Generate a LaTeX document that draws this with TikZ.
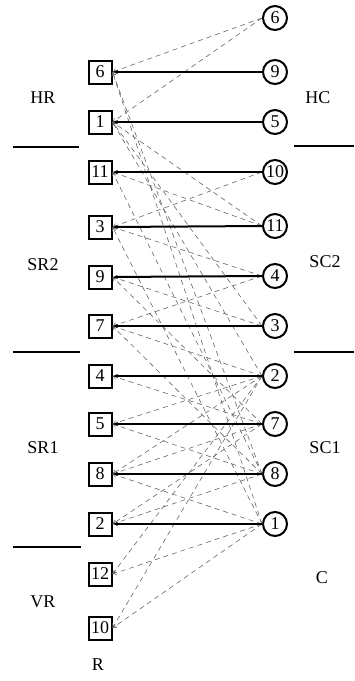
\documentclass[tikz,border=0pt]{standalone}
\usepackage{fontspec}
\setmainfont{Liberation Serif}
\usetikzlibrary{arrows.meta}
\begin{document}
\begin{tikzpicture}[x=1pt,y=-1pt,
  rowbox/.style={draw,line width=2pt,minimum width=23pt,minimum height=23pt,inner sep=0pt,font=\fontsize{18}{18}\selectfont},
  colcirc/.style={draw,circle,line width=2pt,minimum size=24pt,inner sep=0pt,font=\fontsize{18}{18}\selectfont},
  lab/.style={font=\fontsize{18}{18}\selectfont},
  match/.style={line width=2pt,-{Latex[length=5pt,width=4pt]}},
  other/.style={gray!80!black,line width=0.6pt,dash pattern=on 5pt off 4pt,-{To[length=4pt,width=5pt]}},
  sep/.style={line width=2pt}]
\useasboundingbox (0,0) rectangle (354,681);
% rows (squares)
\foreach \n/\y in {6/72,1/122,11/172,3/227,9/277,7/326,4/376,5/424,8/474,2/524,12/574,10/628}
  \node[rowbox] (r\n) at (100,\y) {\n};
% columns (circles)
\foreach \n/\y in {6/18,9/72,5/122,10/172,11/226,4/276,3/326,2/376,7/424,8/474,1/524}
  \node[colcirc] (c\n) at (275,\y) {\n};
% labels
\node[lab] (hr) at (43,98) {HR};
\node[lab] (sr2) at (43,265) {SR2};
\node[lab] (sr1) at (43,448) {SR1};
\node[lab] (vr) at (43,602) {VR};
\node[lab] (rl) at (98,665) {R};
\node[lab] (hc) at (318,98) {HC};
\node[lab] (sc2) at (325,262) {SC2};
\node[lab] (sc1) at (325,448) {SC1};
\node[lab] (cl) at (322,578) {C};
% separators
\coordinate (l1a) at (13,147); \coordinate (l1b) at (79,147);
\coordinate (l2a) at (13,352); \coordinate (l2b) at (80,352);
\coordinate (l3a) at (13,547); \coordinate (l3b) at (81,547);
\coordinate (q1a) at (294,146); \coordinate (q1b) at (354,146);
\coordinate (q2a) at (294,352); \coordinate (q2b) at (354,352);
\draw[sep] (l1a) -- (l1b);
\draw[sep] (l2a) -- (l2b);
\draw[sep] (l3a) -- (l3b);
\draw[sep] (q1a) -- (q1b);
\draw[sep] (q2a) -- (q2b);
% dashed edges
\foreach \c/\r in {6/6,6/1,11/1,3/1,2/1,8/6,1/6,10/3,11/11,4/3,4/7,3/9,8/11,1/3,8/7,7/4,2/5,8/5,2/8,7/8,1/8,8/2,7/2,1/12,1/10,2/12,2/10,2/7,7/9}
  \draw[other] (c\c.west) -- (r\r.east);
% matching
\foreach \c/\r in {9/6,5/1,10/11,11/3,4/9,3/7,2/4,7/5,8/8,1/2}
  \draw[match] (c\c.west) -- (r\r.east);
\end{tikzpicture}
\end{document}
